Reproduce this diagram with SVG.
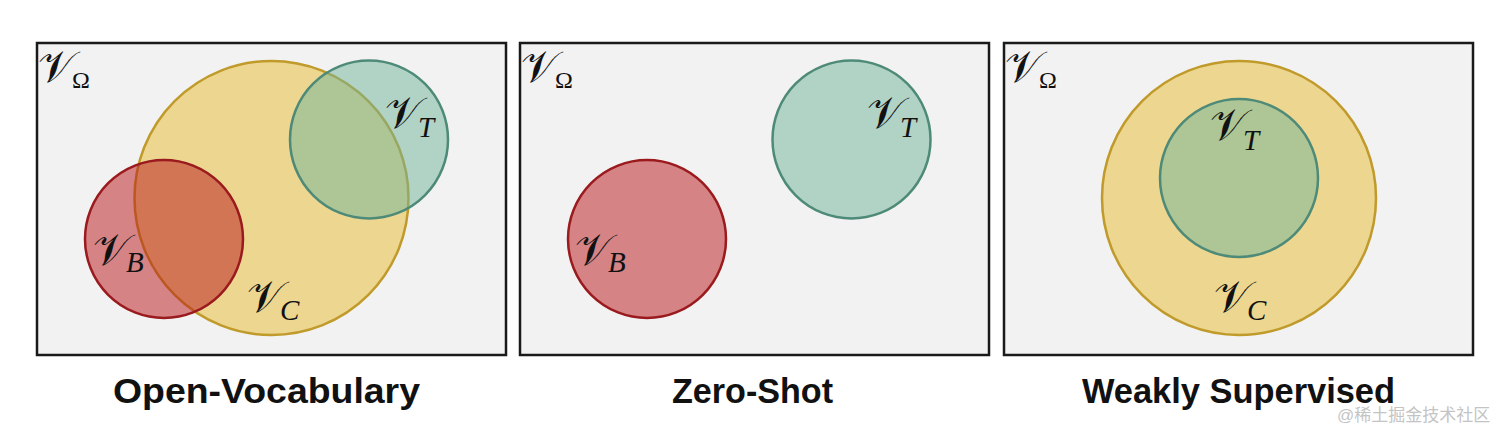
<svg xmlns="http://www.w3.org/2000/svg" width="1512" height="438" viewBox="0 0 1512 438">
<style>
.panel{fill:#f2f2f2;stroke:#1a1a1a;stroke-width:2.5}
.cy{fill:#e6ba2e;fill-opacity:0.5;stroke:#c09a2a;stroke-width:2.5}
.ct{fill:#70b49a;fill-opacity:0.5;stroke:#4e8a78;stroke-width:2.5}
.cb{fill:#b81418;fill-opacity:0.5;stroke:#9a1a1e;stroke-width:2.5}
.m{font-family:"DejaVu Serif","Liberation Serif",serif;font-size:44px;fill:#111}
.s{font-family:"Liberation Serif",serif;font-style:italic;font-size:29px}
.so{font-family:"Liberation Serif",serif;font-size:24px}
.title{font-family:"Liberation Sans",Arial,sans-serif;font-weight:bold;font-size:35px;fill:#111;text-anchor:middle}
.wm{font-family:"Liberation Sans","Noto Sans CJK SC",sans-serif;font-size:17px;fill:#c4c4c4}
</style>
<g id="panel-open-vocabulary">
<rect class="panel" x="37" y="43" width="469" height="312"/>
<circle class="cy" cx="271.5" cy="198" r="137"/>
<circle class="cb" cx="164" cy="239" r="79"/>
<circle class="ct" cx="369" cy="139.5" r="79"/>
<text class="m" x="38" y="82">𝒱<tspan class="so" dx="-3" dy="6">Ω</tspan></text>
<text class="m" x="385" y="128">𝒱<tspan class="s" dx="-4" dy="9">T</tspan></text>
<text class="m" x="93" y="265">𝒱<tspan class="s" dx="-4" dy="7">B</tspan></text>
<text class="m" x="247" y="312">𝒱<tspan class="s" dx="-4" dy="8">C</tspan></text>
<text class="title" x="266.5" y="403" textLength="307" lengthAdjust="spacingAndGlyphs">Open-Vocabulary</text>
</g>
<g id="panel-zero-shot">
<rect class="panel" x="520" y="43" width="469" height="312"/>
<circle class="cb" cx="647" cy="239" r="79"/>
<circle class="ct" cx="851.5" cy="139.5" r="79"/>
<text class="m" x="521" y="82">𝒱<tspan class="so" dx="-3" dy="6">Ω</tspan></text>
<text class="m" x="867" y="128">𝒱<tspan class="s" dx="-4" dy="9">T</tspan></text>
<text class="m" x="575" y="265">𝒱<tspan class="s" dx="-4" dy="7">B</tspan></text>
<text class="title" x="752.5" y="403" textLength="161" lengthAdjust="spacingAndGlyphs">Zero-Shot</text>
</g>
<g id="panel-weakly-supervised">
<rect class="panel" x="1004" y="43" width="469" height="312"/>
<circle class="cy" cx="1239" cy="198" r="137"/>
<circle class="ct" cx="1239" cy="178" r="79"/>
<text class="m" x="1005" y="82">𝒱<tspan class="so" dx="-3" dy="6">Ω</tspan></text>
<text class="m" x="1210" y="140">𝒱<tspan class="s" dx="-4" dy="10">T</tspan></text>
<text class="m" x="1214" y="312">𝒱<tspan class="s" dx="-4" dy="8">C</tspan></text>
<text class="title" x="1238.5" y="403" textLength="313" lengthAdjust="spacingAndGlyphs">Weakly Supervised</text>
</g>
<g id="connectors"/>
<text class="wm" x="1337" y="421">@稀土掘金技术社区</text>
</svg>
